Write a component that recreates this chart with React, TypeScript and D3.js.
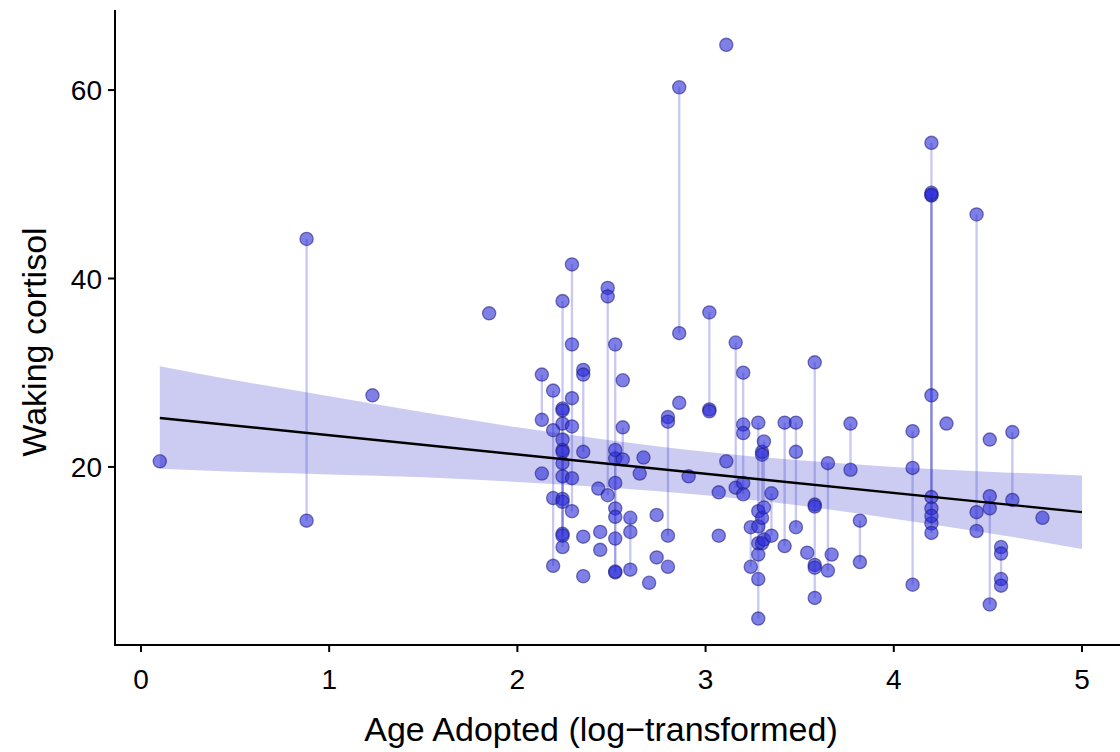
import * as d3 from "d3";
import React from "react";

// log-transformed age at adoption, one entry per child
const subjectAge = [
  0.1, 0.88, 1.23, 1.85, 2.13, 2.13, 2.19, 2.24, 2.24, 2.24, 2.29, 2.35, 2.35, 2.35,
  2.43, 2.44, 2.44, 2.48, 2.52, 2.52, 2.56, 2.56, 2.6, 2.65, 2.67, 2.7, 2.74, 2.74,
  2.8, 2.8, 2.86, 2.86, 2.91, 3.02, 3.07, 3.07, 3.11, 3.11, 3.16, 3.2, 3.24, 3.28,
  3.3, 3.31, 3.35, 3.42, 3.48, 3.54, 3.58, 3.65, 3.67, 3.77, 3.82, 4.1, 4.2, 4.2,
  4.2, 4.28, 4.44, 4.51, 4.51, 4.57, 4.63, 4.79,
];

// waking cortisol readings for each child (same order as subjectAge)
const subjectCortisol = [
  [20.6], [44.2, 14.3], [27.6], [36.3], [29.8, 25.0], [19.3], [28.1, 23.9, 16.7, 9.5],
  [37.6, 26.2, 22.9, 19.0, 12.9], [26.0, 24.6, 21.8, 16.6, 11.5], [21.6, 20.4, 16.3, 12.7],
  [41.5, 33.0, 27.3, 24.3, 18.8, 15.3], [30.3, 29.8, 21.6], [12.6], [8.4],
  [17.7], [13.1], [11.2], [39.0, 38.1, 17.0], [33.0, 20.9, 15.6, 12.4, 8.8],
  [21.8, 18.3, 14.7, 8.9], [29.2], [24.2, 20.8], [14.6, 13.1, 9.1], [19.3], [21.0],
  [7.7], [14.9], [10.4], [25.3, 24.8, 12.7], [9.4], [60.3, 34.2], [26.8], [19.0],
  [36.4, 26.1, 25.9], [17.3], [12.7], [64.8], [20.6], [33.2, 17.8],
  [30.0, 24.5, 23.6, 18.3, 17.1], [13.6, 9.4], [24.7, 15.3, 13.7, 11.9, 10.7, 8.1, 3.9],
  [21.6, 21.3, 14.6, 11.9], [22.7, 15.7, 12.3], [17.2, 12.7], [24.7, 11.6],
  [24.7, 21.6, 13.6], [10.9], [31.1, 16.0, 15.8, 9.6, 9.3, 6.1], [20.4, 9.0], [10.7],
  [24.6, 19.7], [14.3, 9.9], [23.8, 19.9, 7.5], [54.4, 48.8, 16.8, 14.0],
  [49.1, 27.6, 15.6, 13.0], [48.9, 14.8], [24.6], [46.8, 15.2, 13.2], [22.9],
  [16.9, 15.6, 5.4], [11.5, 10.8, 8.1, 7.4], [23.7, 16.5], [14.6],
];

// fitted line and its confidence band
const fitAge = [0.1, 5.0];
const fitCortisol = [25.2, 15.2];
const bandAge = [0.1, 0.5, 1, 1.5, 2, 2.5, 3, 3.5, 4, 4.5, 5];
const bandUpper = [30.7, 29.2, 27.5, 25.8, 24.2, 22.8, 21.6, 20.7, 20.0, 19.5, 19.1];
const bandLower = [19.8, 19.5, 19.2, 18.9, 18.4, 17.8, 17.0, 15.9, 14.5, 13.0, 11.3];

const xTicks = [0, 1, 2, 3, 4, 5];
const yTicks = [20, 40, 60];

const W = 1120, H = 752;
const margin = { top: 10, right: 0, bottom: 107, left: 115 };
const font = "'Liberation Sans', Arial, Helvetica, sans-serif";

export default function App() {
  const x = d3.scaleLinear().domain([-0.138, 5.202]).range([margin.left, W - margin.right]);
  const y = d3.scaleLinear().domain([1.1, 68.5]).range([H - margin.bottom, margin.top]);

  const band = d3
    .area<number>()
    .x((d, i) => x(bandAge[i]))
    .y0((d, i) => y(bandLower[i]))
    .y1((d, i) => y(bandUpper[i]))
    .curve(d3.curveMonotoneX)(bandAge);

  const fit = d3
    .line<number>()
    .x((d) => x(d))
    .y((d, i) => y(fitCortisol[i]))(fitAge);

  const points = subjectAge.flatMap((a, i) => subjectCortisol[i].map((c) => ({ a, c })));

  const x0 = margin.left, yBottom = H - margin.bottom;

  return (
    <svg width={W} height={H} style={{ position: "absolute", left: 0, top: 0, background: "#fff" }}>
      <path d={band || ""} fill="#3333cc" fillOpacity={0.25} stroke="none" />

      {/* connect repeated measures of the same child */}
      {subjectAge.map((a, i) => {
        const vals = subjectCortisol[i];
        if (vals.length < 2) return null;
        return (
          <line
            key={"s" + i}
            x1={x(a)}
            x2={x(a)}
            y1={y(d3.max(vals)!)}
            y2={y(d3.min(vals)!)}
            stroke="#3333cc"
            strokeOpacity={0.27}
            strokeWidth={2.3}
          />
        );
      })}

      {points.map((p, i) => (
        <circle
          key={"p" + i}
          cx={x(p.a)}
          cy={y(p.c)}
          r={6.6}
          fill="#2a2ad8"
          fillOpacity={0.6}
          stroke="#1c1c7a"
          strokeOpacity={0.55}
          strokeWidth={1.3}
        />
      ))}

      <path d={fit || ""} fill="none" stroke="#000" strokeWidth={2.4} />

      {/* axes */}
      <line x1={x0} x2={x0} y1={margin.top} y2={yBottom} stroke="#000" strokeWidth={2} />
      <line x1={x0 - 1} x2={W} y1={yBottom} y2={yBottom} stroke="#000" strokeWidth={2} />
      {yTicks.map((t) => (
        <g key={"yt" + t}>
          <line x1={x0 - 7} x2={x0} y1={y(t)} y2={y(t)} stroke="#000" strokeWidth={2} />
          <text x={x0 - 13} y={y(t)} dy="0.36em" textAnchor="end" fontFamily={font} fontSize={28} fill="#000">
            {t}
          </text>
        </g>
      ))}
      {xTicks.map((t) => (
        <g key={"xt" + t}>
          <line x1={x(t)} x2={x(t)} y1={yBottom} y2={yBottom + 7} stroke="#000" strokeWidth={2} />
          <text x={x(t)} y={yBottom + 44} textAnchor="middle" fontFamily={font} fontSize={28} fill="#000">
            {t}
          </text>
        </g>
      ))}

      <text x={601} y={741} textAnchor="middle" fontFamily={font} fontSize={34} fill="#000">
        Age Adopted (log−transformed)
      </text>
      <text
        transform={`translate(46,342) rotate(-90)`}
        textAnchor="middle"
        fontFamily={font}
        fontSize={34}
        fill="#000"
      >
        Waking cortisol
      </text>
    </svg>
  );
}
